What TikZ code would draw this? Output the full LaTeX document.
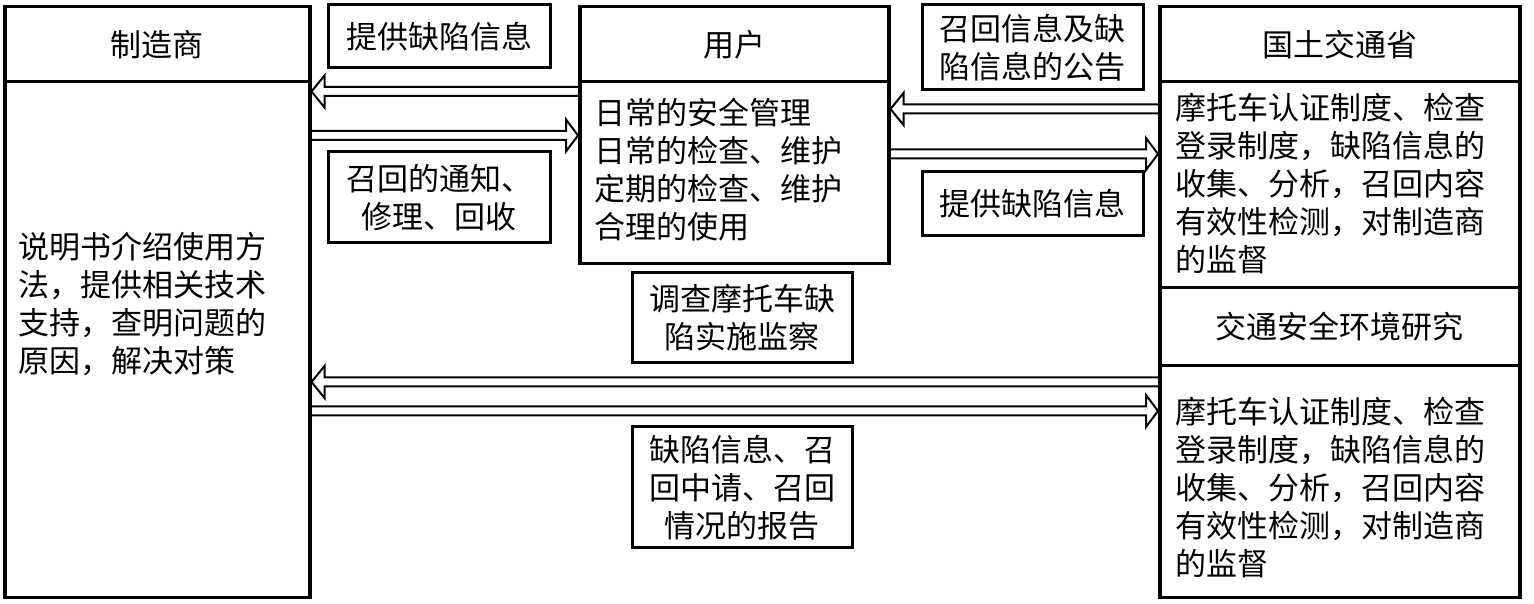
\documentclass[tikz,border=0pt]{standalone}
\usepackage{fontspec}
\newfontfamily\cjk{Noto Sans CJK SC}
\usetikzlibrary{calc}
\tikzset{
  cjkfont/.style={font=\cjk\fontsize{31}{38}\selectfont},
  bigbox/.style={draw, line width=3.5pt, inner sep=0pt, anchor=north west, cjkfont},
  lbox/.style={draw, line width=3pt, inner sep=0pt, align=center, cjkfont},
  bodytext/.style={inner sep=0pt, anchor=north west, align=left, cjkfont},
  arrowline/.style={line width=2pt, line join=miter},
}
% #1 tail anchor, #2 tip anchor, #3 centre y in image coordinates, #4 signed head length
\newcommand\hollowarrow[4]{%
  \draw[arrowline] let \p1=(#1), \p2=(#2) in
    ({\x1},{(604-#3+4.5)*1pt}) -- ({\x2+(#4)*1pt},{(604-#3+4.5)*1pt})
    -- ({\x2+(#4)*1pt},{(604-#3+16)*1pt}) -- ({\x2},{(604-#3)*1pt})
    -- ({\x2+(#4)*1pt},{(604-#3-16)*1pt}) -- ({\x2+(#4)*1pt},{(604-#3-4.5)*1pt})
    -- ({\x1},{(604-#3-4.5)*1pt});}
\begin{document}
\begin{tikzpicture}[x=1pt,y=1pt]
\fill[white] (0,0) rectangle (1534,604);
\useasboundingbox (0,0) rectangle (1534,604);

% manufacturer
\node[bigbox, minimum width=305, minimum height=75] (mfrhead) at (3,599) {制造商};
\node[bigbox, minimum width=305, minimum height=516] (mfrbody) at (3,524) {};
\node[bodytext] (mfrtext) at (18,372) {说明书介绍使用方\\法，提供相关技术\\支持，查明问题的\\原因，解决对策};

% user
\node[bigbox, minimum width=309, minimum height=75] (userhead) at (578,599) {用户};
\node[bigbox, minimum width=309, minimum height=182] (userbody) at (578,524) {};
\node[bodytext] (usertext) at (594,506) {日常的安全管理\\日常的检查、维护\\定期的检查、维护\\合理的使用};

% ministry
\node[bigbox, minimum width=360, minimum height=75] (mlithead) at (1158,599) {国土交通省};
\node[bigbox, minimum width=360, minimum height=206] (mlitbody) at (1158,524) {};
\node[bodytext] (mlittext) at (1175,511) {摩托车认证制度、检查\\登录制度，缺陷信息的\\收集、分析，召回内容\\有效性检测，对制造商\\的监督};

% research
\node[bigbox, minimum width=360, minimum height=78] (reshead) at (1158,318) {交通安全环境研究};
\node[bigbox, minimum width=360, minimum height=232] (resbody) at (1158,240) {};
\node[bodytext] (restext) at (1175,207) {摩托车认证制度、检查\\登录制度，缺陷信息的\\收集、分析，召回内容\\有效性检测，对制造商\\的监督};

% labels
\node[lbox, minimum width=222, minimum height=63] (lab1) at (439,567.5) {提供缺陷信息};
\node[lbox, minimum width=222, minimum height=91] (lab2) at (439,406.5) {召回的通知、\\修理、回收};
\node[lbox, minimum width=221, minimum height=85] (lab3) at (1032.5,556.5) {召回信息及缺\\陷信息的公告};
\node[lbox, minimum width=221, minimum height=64] (lab4) at (1032.5,400) {提供缺陷信息};
\node[lbox, minimum width=220, minimum height=90] (lab5) at (742,286) {调查摩托车缺\\陷实施监察};
\node[lbox, minimum width=220, minimum height=121] (lab6) at (742,116.5) {缺陷信息、召\\回中请、召回\\情况的报告};

% arrows
\hollowarrow{userbody.west}{mfrbody.east}{91.5}{13}
\hollowarrow{mfrbody.east}{userbody.west}{135.5}{-12}
\hollowarrow{mlitbody.west}{userbody.east}{109}{13}
\hollowarrow{userbody.east}{mlitbody.west}{154}{-12}
\hollowarrow{resbody.west}{mfrbody.east}{382}{13}
\hollowarrow{mfrbody.east}{resbody.west}{411}{-12}
\end{tikzpicture}
\end{document}
